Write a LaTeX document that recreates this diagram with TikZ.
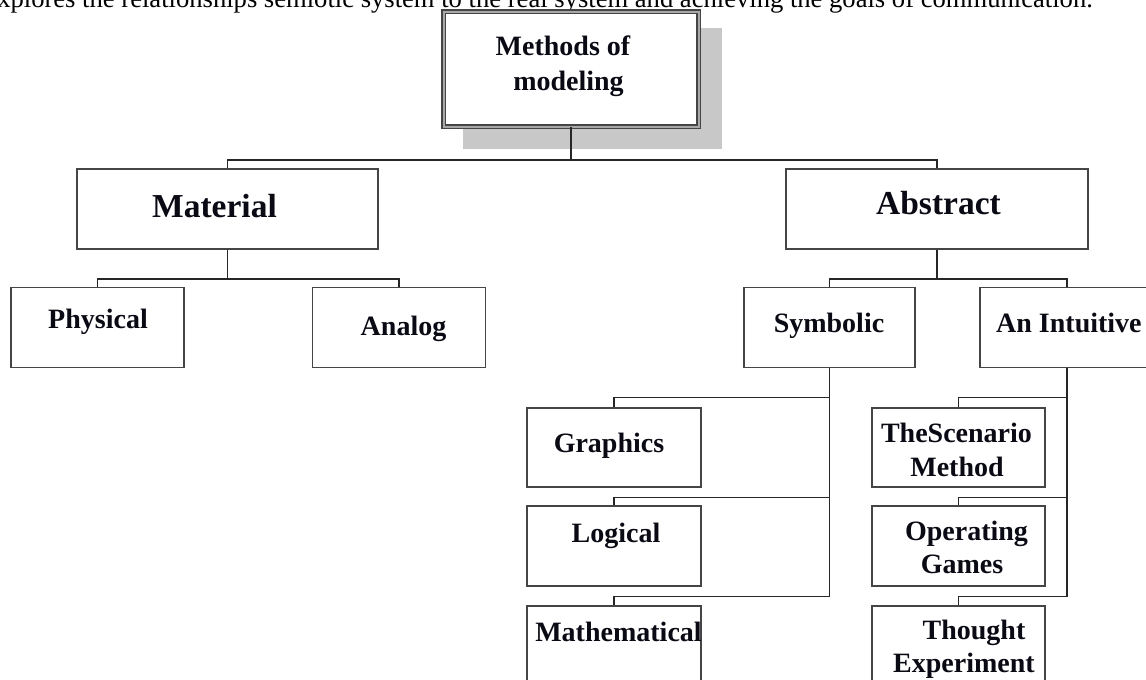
\documentclass[tikz,border=0pt]{standalone}
\usepackage{fontspec}
\setmainfont{Liberation Serif}
\definecolor{boxline}{HTML}{454545}
\definecolor{linkgray}{HTML}{262626}
\definecolor{labelink}{HTML}{0A0A14}
\definecolor{shadowgray}{HTML}{C8C8C8}
\definecolor{frameband}{HTML}{A8A8A8}
\begin{document}
\begin{tikzpicture}[x=1pt,y=-1pt,
  box/.style={rectangle, draw=boxline, line width=1.8pt, fill=white, inner sep=0pt},
  small/.style={box, minimum width=173pt, minimum height=80pt},
  wide/.style={box, minimum width=301pt, minimum height=80pt},
  lbl/.style={font=\bfseries\fontsize{28}{34}\selectfont, text=labelink, inner sep=0pt, anchor=base},
  biglbl/.style={lbl, font=\bfseries\fontsize{33.5}{40}\selectfont},
  link/.style={draw=linkgray, line width=1.8pt}
]
\useasboundingbox (0,0) rectangle (1146,680);
\clip (0,0) rectangle (1146,680);
\fill[white] (0,0) rectangle (1146,680);

% running text above the chart
\node[font=\fontsize{26.6}{30}\selectfont, anchor=base east, inner sep=0pt] (caption) at (1093,7)
  {explores the relationships semiotic system to the real system and achieving the goals of communication.};

% root box with its drop shadow and double frame
\node[rectangle, fill=shadowgray, inner sep=0pt, minimum width=259pt, minimum height=121pt] (rootshadow) at (592.5,88.5) {};
\node[rectangle, fill=white, draw=boxline, line width=1.5pt, double=frameband, double distance=2pt,
      inner sep=0pt, minimum width=255pt, minimum height=115pt] (root) at (571,69) {};

% first level
\node[wide] (material) at (227.5,209) {};
\node[wide, minimum width=302pt] (abstract) at (937,209) {};

% second level
\node[small] (physical) at (97.5,327.5) {};
\node[small] (analog) at (399,327.5) {};
\node[small, minimum width=171pt] (symbolic) at (829.5,327.5) {};
\node[small, minimum width=174pt] (intuitive) at (1067,327.5) {};

% third level
\node[small, minimum width=174pt, minimum height=79pt] (graphics) at (614,447.5) {};
\node[small, minimum width=174pt] (logical) at (614,546) {};
\node[small, minimum width=174pt] (mathematical) at (614,646) {};
\node[small, minimum width=173pt, minimum height=79pt] (scenario) at (958.5,447.5) {};
\node[small, minimum width=173pt] (operating) at (958.5,546) {};
\node[small, minimum width=173pt] (thought) at (958.5,646) {};

% labels
\node[lbl] (t-root1) at (563,55) {Methods of};
\node[lbl] (t-root2) at (568.5,90) {modeling};
\node[biglbl] (t-material) at (214.5,217) {Material};
\node[biglbl] (t-abstract) at (938.5,214) {Abstract};
\node[lbl] (t-physical) at (98,328) {Physical};
\node[lbl] (t-analog) at (403.5,335) {Analog};
\node[lbl] (t-symbolic) at (829,332) {Symbolic};
\node[lbl, anchor=base west] (t-intuitive) at (996,332) {An Intuitive};
\node[lbl] (t-graphics) at (609,452.5) {Graphics};
\node[lbl] (t-logical) at (616,542) {Logical};
\node[lbl] (t-mathematical) at (618.5,641.5) {Mathematical};
\node[lbl] (t-scenario1) at (956.5,442.5) {TheScenario};
\node[lbl] (t-scenario2) at (957,476.5) {Method};
\node[lbl] (t-operating1) at (966.5,540) {Operating};
\node[lbl] (t-operating2) at (962,573) {Games};
\node[lbl] (t-thought1) at (974,639) {Thought};
\node[lbl] (t-thought2) at (964,672) {Experiment};

% connectors
\draw[link] (root.south) -- ++(0,32.5) -| (material.north);
\draw[link] (root.south) -- ++(0,32.5) -| (abstract.north);
\draw[link] (material.south) -- ++(0,29) -| (physical.north);
\draw[link] (material.south) -- ++(0,29) -| (analog.north);
\draw[link] (abstract.south) -- ++(0,29) -| (symbolic.north);
\draw[link] (abstract.south) -- ++(0,29) -| (intuitive.north);
\draw[link] (symbolic.south) -- ++(0,29) -| (graphics.north);
\draw[link] (symbolic.south) -- ++(0,129) -| (logical.north);
\draw[link] (symbolic.south) -- ++(0,228) -| (mathematical.north);
\draw[link] (intuitive.south) -- ++(0,29) -| (scenario.north);
\draw[link] (intuitive.south) -- ++(0,129) -| (operating.north);
\draw[link] (intuitive.south) -- ++(0,228) -| (thought.north);
\end{tikzpicture}
\end{document}
